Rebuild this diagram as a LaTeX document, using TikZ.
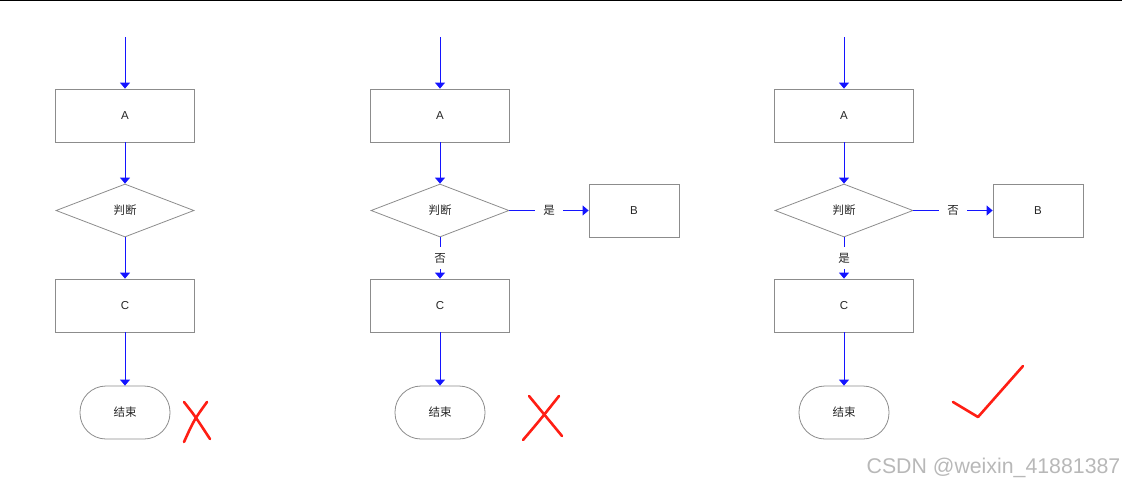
\documentclass[tikz,border=0pt]{standalone}
\usepackage{fontspec}
\setmainfont{Liberation Sans}
\newfontfamily\cjk{Noto Sans CJK SC}
\usetikzlibrary{shapes.geometric,arrows.meta}
\definecolor{boxgray}{RGB}{140,140,140}
\definecolor{flowblue}{RGB}{20,20,255}
\definecolor{markred}{RGB}{255,30,20}
\begin{document}
\begin{tikzpicture}[x=1pt,y=-1pt,
  every node/.style={font=\fontsize{11.5}{13}\selectfont, text=black!85},
  procbox/.style={draw=boxgray, line width=0.8pt, minimum width=139pt, minimum height=53pt, inner sep=0pt},
  sidebox/.style={draw=boxgray, line width=0.8pt, minimum width=90pt, minimum height=53pt, inner sep=0pt},
  decision/.style={diamond, draw=boxgray, line width=0.8pt, minimum width=138pt, minimum height=53pt, inner sep=0pt},
  terminal/.style={draw=boxgray, line width=0.8pt, rounded corners=26pt, minimum width=90pt, minimum height=53pt, inner sep=0pt},
  flow/.style={draw=flowblue, line width=0.9pt, -{Triangle[length=6pt,width=10pt]}},
  hlabel/.style={fill=white, inner xsep=8pt, inner ysep=1pt},
  vlabel/.style={fill=white, inner xsep=1pt, inner ysep=6pt},
  redmark/.style={draw=markred, line width=2.6pt, line cap=round, line join=round}
]
\useasboundingbox (0,0) rectangle (1125,488);
\draw[black, line width=1pt] (0,0.5) -- (1122,0.5);

% column 1
\coordinate (s1) at (125,37);
\node[procbox] (a1) at (125,115.5) {A};
\node[decision] (d1) at (125,210.5) {\cjk 判断};
\node[procbox] (c1) at (125,305.5) {C};
\node[terminal] (e1) at (125,412.5) {\cjk 结束};
\draw[flow] (s1) -- (a1);
\draw[flow] (a1) -- (d1);
\draw[flow] (d1) -- (c1);
\draw[flow] (c1) -- (e1);

% column 2
\coordinate (s2) at (440,37);
\node[procbox] (a2) at (440,115.5) {A};
\node[decision] (d2) at (440,210.5) {\cjk 判断};
\node[sidebox] (b2) at (634,210.5) {B};
\node[procbox] (c2) at (440,305.5) {C};
\node[terminal] (e2) at (440,412.5) {\cjk 结束};
\draw[flow] (s2) -- (a2);
\draw[flow] (a2) -- (d2);
\draw[flow] (d2) -- node[hlabel] {\cjk 是} (b2);
\draw[flow] (d2) -- node[vlabel] {\cjk 否} (c2);
\draw[flow] (c2) -- (e2);

% column 3
\coordinate (s3) at (844,37);
\node[procbox] (a3) at (844,115.5) {A};
\node[decision] (d3) at (844,210.5) {\cjk 判断};
\node[sidebox] (b3) at (1038,210.5) {B};
\node[procbox] (c3) at (844,305.5) {C};
\node[terminal] (e3) at (844,412.5) {\cjk 结束};
\draw[flow] (s3) -- (a3);
\draw[flow] (a3) -- (d3);
\draw[flow] (d3) -- node[hlabel] {\cjk 否} (b3);
\draw[flow] (d3) -- node[vlabel] {\cjk 是} (c3);
\draw[flow] (c3) -- (e3);

% red marks
\draw[redmark] (184,402) .. controls (195,416) .. (210,439);
\draw[redmark] (207,402) .. controls (194,420) .. (184,442);
\draw[redmark] (529,396) .. controls (545,416) .. (562,436);
\draw[redmark] (559,396) .. controls (540,420) .. (523,440);
\draw[redmark] (953,402) -- (978,417) .. controls (1000,392) .. (1023,366);

% watermark
\node[font=\fontsize{21.3}{23}\selectfont, text=black!28] (wm) at (993.5,468) {CSDN @weixin\_41881387};
\end{tikzpicture}
\end{document}
